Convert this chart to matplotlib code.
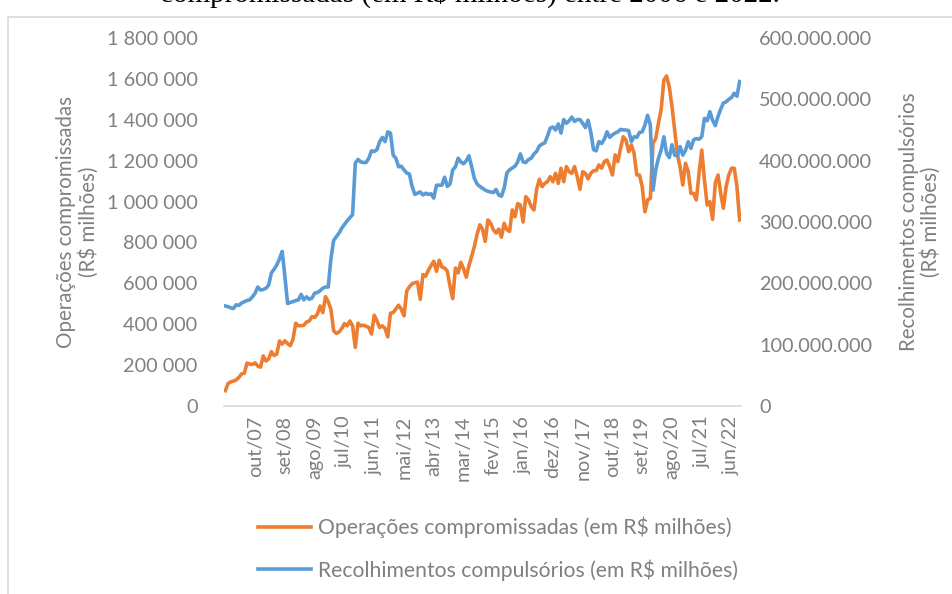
import matplotlib
matplotlib.use('Agg')
import matplotlib.pyplot as plt
from matplotlib.lines import Line2D
from matplotlib.patches import Rectangle
from matplotlib.ticker import FuncFormatter, MultipleLocator

# monthly series starting nov/2006
start_year = 2006
start_month = 10  # nov (0-based)
meses = ['jan', 'fev', 'mar', 'abr', 'mai', 'jun', 'jul', 'ago', 'set', 'out', 'nov', 'dez']

# Operações compromissadas (thousands of R$ milhões)
compromissadas = [
    75, 110, 118, 122, 128, 140, 157, 160, 210, 205,
    203, 211, 195, 190, 245, 220, 230, 266, 247, 254,
    318, 303, 319, 305, 295, 327, 405, 392, 393, 395,
    411, 416, 437, 433, 450, 489, 457, 535, 510, 473,
    368, 355, 362, 379, 403, 392, 416, 392, 287, 405,
    392, 395, 390, 384, 352, 444, 416, 384, 392, 379,
    338, 454, 457, 475, 493, 473, 441, 562, 583, 598,
    603, 606, 522, 643, 635, 664, 687, 708, 659, 713,
    680, 675, 659, 586, 525, 675, 651, 703, 671, 630,
    687, 732, 781, 840, 886, 865, 805, 910, 894, 862,
    846, 865, 826, 894, 862, 854, 959, 926, 990, 983,
    900, 1024, 1008, 975, 959, 1060, 1109, 1073, 1089, 1097,
    1122, 1097, 1138, 1089, 1163, 1097, 1171, 1146, 1138, 1171,
    1122, 1060, 1146, 1138, 1111, 1138, 1151, 1151, 1179, 1163,
    1195, 1203, 1171, 1130, 1228, 1195, 1260, 1317, 1301, 1244,
    1277, 1236, 1130, 1130, 1073, 950, 1008, 1016, 1285, 1309,
    1383, 1450, 1594, 1614, 1562, 1464, 1350, 1231, 1170, 1081,
    1187, 1146, 1040, 1040, 1008, 1138, 1252, 1105, 983, 999,
    913, 1089, 1130, 1040, 967, 1073, 1130, 1163, 1163, 1073,
    910,
]

# Recolhimentos compulsórios (millions of R$ milhões)
compulsorios = [
    163, 162, 160, 159, 165, 164, 168, 170, 172, 173,
    178, 184, 194, 189, 190, 192, 197, 217, 223, 230,
    240, 252, 211, 167, 169, 170, 172, 173, 182, 173,
    178, 174, 176, 184, 185, 188, 192, 194, 194, 240,
    270, 276, 282, 290, 296, 302, 307, 312, 396, 402,
    398, 397, 397, 404, 416, 415, 418, 431, 438, 431,
    447, 445, 409, 404, 390, 391, 385, 380, 378, 358,
    345, 347, 349, 344, 347, 345, 346, 339, 360, 360,
    360, 373, 358, 362, 385, 390, 404, 398, 395, 400,
    408, 390, 371, 362, 358, 355, 352, 350, 349, 348,
    353, 344, 342, 355, 380, 385, 388, 391, 398, 411,
    398, 397, 402, 404, 411, 415, 424, 427, 429, 440,
    453, 455, 450, 460, 445, 467, 461, 465, 471, 464,
    467, 467, 461, 454, 466, 447, 418, 416, 431, 428,
    435, 447, 438, 442, 445, 447, 451, 450, 450, 449,
    431, 439, 438, 446, 447, 458, 474, 458, 352, 385,
    404, 417, 439, 412, 405, 426, 409, 408, 423, 409,
    417, 431, 420, 434, 436, 435, 439, 469, 465, 480,
    466, 457, 472, 484, 494, 496, 500, 503, 510, 505,
    529,
]

n = len(compromissadas)
categorias = []
for i in range(n):
    m = start_month + i
    categorias.append('%s/%02d' % (meses[m % 12], (start_year + m // 12) % 100))

x = list(range(n))
y1 = [v * 1000 for v in compromissadas]
y2 = [v * 1000000 for v in compulsorios]

plt.rcParams['font.family'] = ['Lato', 'DejaVu Sans']
gray = '#808080'
orange = '#ED7D31'
blue = '#5B9BD5'
fs = 14.3

W, H = 953, 594
fig = plt.figure(figsize=(W / 100, H / 100), dpi=100)

# chart border (Excel chart area)
fig.patches.append(Rectangle((8 / W, -0.1), 1.2, 1 - 17 / H + 0.1, transform=fig.transFigure,
                             fill=False, edgecolor='#d9d9d9', linewidth=1.2))

# caption line cut at the top edge, as in the source picture
fig.text(470 / W, 1 - 1.5 / H, 'compromissadas (em R$ milhões) entre 2006 e 2022.',
         family='Liberation Serif', fontsize=21, ha='center', va='baseline', color='black')

ax = fig.add_axes([224 / W, 1 - 406 / H, (741 - 224) / W, (406 - 38) / H])
ax2 = ax.twinx()

l1, = ax.plot(x, y1, color=orange, linewidth=2.6, solid_joinstyle='round')
l2, = ax2.plot(x, y2, color=blue, linewidth=2.6, solid_joinstyle='round')

ax.set_xlim(-0.5, n - 0.5)
ax.set_ylim(0, 1800000)
ax2.set_ylim(0, 600000000)
ax.yaxis.set_major_locator(MultipleLocator(200000))
ax2.yaxis.set_major_locator(MultipleLocator(100000000))
ax.yaxis.set_major_formatter(FuncFormatter(lambda v, p: format(int(v), ',').replace(',', ' ')))
ax2.yaxis.set_major_formatter(FuncFormatter(lambda v, p: format(int(v), ',').replace(',', '.')))

pos = list(range(11, n, 11))
ax.set_xticks(pos)
ax.set_xticklabels([categorias[p] for p in pos], rotation=90, ha='center', va='top')

for a in (ax, ax2):
    for s in a.spines.values():
        s.set_visible(False)
    a.tick_params(length=0, colors=gray, labelsize=fs)
ax.spines['bottom'].set_visible(True)
ax.spines['bottom'].set_color('#d9d9d9')
ax.spines['bottom'].set_linewidth(1.2)
ax.tick_params(axis='y', pad=19)
ax.tick_params(axis='x', pad=7)
ax2.tick_params(axis='y', pad=13)

ax.set_ylabel('Operações compromissadas\n(R$ milhões)', color=gray, fontsize=14.8, labelpad=6,
              linespacing=1.1)
ax2.set_ylabel('Recolhimentos compulsórios\n(R$ milhões)', color=gray, fontsize=14.8, labelpad=19,
               rotation=90, linespacing=1.1)

handles = [Line2D([], [], color=orange, linewidth=2.6), Line2D([], [], color=blue, linewidth=2.6)]
leg = fig.legend(handles, ['Operações compromissadas (em R$ milhões)',
                           'Recolhimentos compulsórios (em R$ milhões)'],
                 loc='upper left', bbox_to_anchor=(250 / W, 1 - 508 / H), frameon=False,
                 fontsize=15.2, handlelength=2.5, handletextpad=0.3, labelspacing=1.0,
                 borderaxespad=0)
for t in leg.get_texts():
    t.set_color(gray)

fig.savefig('out.png', dpi=100)
